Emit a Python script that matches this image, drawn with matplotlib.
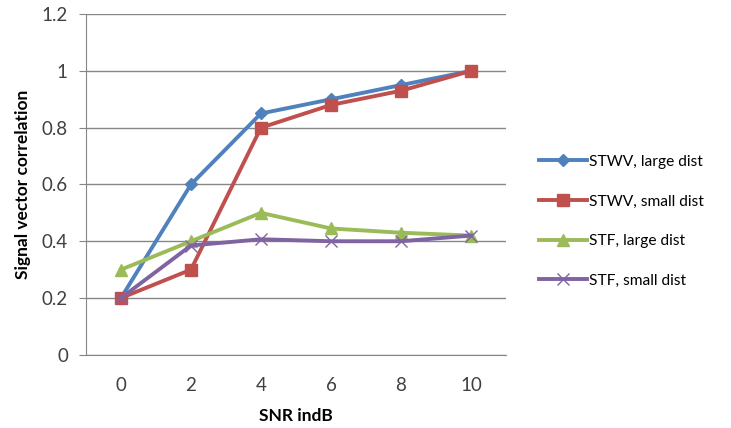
import matplotlib.pyplot as plt

snr = [0, 2, 4, 6, 8, 10]
stwv_large = [0.2, 0.6, 0.85, 0.9, 0.95, 1.0]
stwv_small = [0.2, 0.3, 0.8, 0.88, 0.93, 1.0]
stf_large = [0.3, 0.4, 0.5, 0.445, 0.43, 0.42]
stf_small = [0.2, 0.385, 0.407, 0.4, 0.4, 0.42]
labels = ["STWV, large dist", "STWV, small dist", "STF, large dist", "STF, small dist"]

plt.rcParams['font.family'] = ['Lato', 'DejaVu Sans']

fig = plt.figure(figsize=(7.31, 4.28), dpi=100)
ax = fig.add_axes([0.1176, 0.171, 0.5745, 0.796])

x = list(range(len(snr)))
ax.plot(x, stwv_large, color="#4F81BD", lw=2.8, marker="D", ms=6, label=labels[0])
ax.plot(x, stwv_small, color="#C0504D", lw=2.8, marker="s", ms=8, label=labels[1])
ax.plot(x, stf_large, color="#9BBB59", lw=2.8, marker="^", ms=8, label=labels[2])
ax.plot(x, stf_small, color="#8064A2", lw=2.8, marker="x", ms=9, mew=1.0, label=labels[3])

ax.set_xlim(-0.5, len(snr) - 0.5)
ax.set_ylim(0, 1.2)
ax.set_xticks(x)
ax.set_xticklabels([str(s) for s in snr])
ax.set_yticks([0, 0.2, 0.4, 0.6, 0.8, 1.0, 1.2])
ax.set_yticklabels(["0", "0.2", "0.4", "0.6", "0.8", "1", "1.2"])
ax.grid(axis="y", color="#868686", lw=1.0)
ax.set_axisbelow(True)
for s in ["top", "right"]:
    ax.spines[s].set_visible(False)
for s in ["left", "bottom"]:
    ax.spines[s].set_color("#868686")
ax.tick_params(axis="y", length=5, color="#868686", labelsize=13.5, pad=8, labelcolor="#404040")
ax.tick_params(axis="x", length=0, labelsize=13.5, pad=16, labelcolor="#404040")

ax.set_xlabel("SNR indB", fontsize=12.5, fontweight="bold", labelpad=10)
ax.set_ylabel("Signal vector correlation", fontsize=12.5, fontweight="bold", labelpad=8)

fig.legend(loc="center left", bbox_to_anchor=(0.718, 0.483), frameon=False,
           fontsize=11.2, handlelength=3.1, labelspacing=1.65, handletextpad=0.1)

fig.savefig("out.png", dpi=100)
